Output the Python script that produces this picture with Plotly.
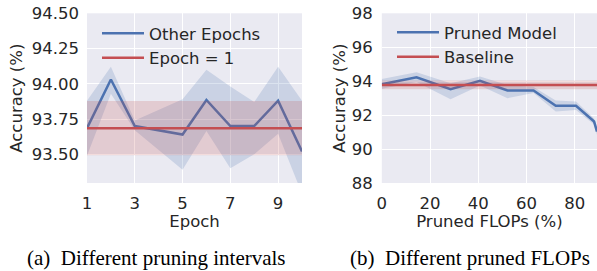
import plotly.graph_objects as go

# ---- data: (a) different pruning intervals ----
epochs = [1, 2, 3, 5, 6, 7, 8, 9, 10]
other_mean = [93.685, 94.03, 93.70, 93.64, 93.885, 93.70, 93.70, 93.88, 93.52]
other_upper = [93.88, 94.12, 93.74, 93.89, 94.10, 93.98, 93.87, 94.12, 93.88]
other_lower = [93.49, 93.93, 93.67, 93.39, 93.665, 93.40, 93.50, 93.645, 93.22]
epoch1_mean = 93.685
epoch1_upper = 93.878
epoch1_lower = 93.492
epoch_ticks = [1, 3, 5, 7, 9]
acc_ticks_a = [93.50, 93.75, 94.00, 94.25, 94.50]

# ---- data: (b) different pruned FLOPs ----
flops = [0, 14.4, 28.5, 40.7, 52.1, 62.9, 72.1, 80.5, 88.0, 89.2]
pruned_mean = [93.82, 94.23, 93.53, 94.02, 93.45, 93.45, 92.55, 92.55, 91.62, 91.03]
pruned_upper = [94.13, 94.53, 93.88, 94.27, 93.78, 93.65, 92.86, 92.80, 91.80, 91.20]
pruned_lower = [93.55, 93.95, 92.94, 93.74, 93.00, 93.30, 92.21, 92.30, 91.45, 90.85]
baseline_mean = 93.78
baseline_upper = 94.04
baseline_lower = 93.52
flops_ticks = [0, 20, 40, 60, 80]
acc_ticks_b = [88, 90, 92, 94, 96, 98]

BLUE = "#4C72B0"
RED = "#C44E52"
BLUE_FILL = "rgba(76,114,176,0.2)"
RED_FILL = "rgba(196,78,82,0.2)"
TXT = "#262626"
FONT = "DejaVu Sans"
FS = 16.5

fig = go.Figure()

def add_panel(fig, xs, mean, up, lo, base, bup, blo, xr, xa, ya, leg, name1, name2):
    # blue band
    fig.add_trace(go.Scatter(x=xs, y=up, mode="lines", line=dict(width=0), hoverinfo="skip",
                             showlegend=False, xaxis=xa, yaxis=ya))
    fig.add_trace(go.Scatter(x=xs, y=lo, mode="lines", line=dict(width=0), fill="tonexty",
                             fillcolor=BLUE_FILL, hoverinfo="skip", showlegend=False,
                             xaxis=xa, yaxis=ya))
    fig.add_trace(go.Scatter(x=xs, y=mean, mode="lines", line=dict(color=BLUE, width=2.5),
                             name=name1, legend=leg, xaxis=xa, yaxis=ya))
    # red band
    fig.add_trace(go.Scatter(x=xr, y=[bup, bup], mode="lines", line=dict(width=0),
                             hoverinfo="skip", showlegend=False, xaxis=xa, yaxis=ya))
    fig.add_trace(go.Scatter(x=xr, y=[blo, blo], mode="lines", line=dict(width=0),
                             fill="tonexty", fillcolor=RED_FILL, hoverinfo="skip",
                             showlegend=False, xaxis=xa, yaxis=ya))
    fig.add_trace(go.Scatter(x=xr, y=[base, base], mode="lines",
                             line=dict(color=RED, width=2.5), name=name2, legend=leg,
                             xaxis=xa, yaxis=ya))

add_panel(fig, epochs, other_mean, other_upper, other_lower,
          epoch1_mean, epoch1_upper, epoch1_lower, [1, 10], "x", "y", "legend",
          "Other Epochs", "Epoch = 1")
add_panel(fig, flops, pruned_mean, pruned_upper, pruned_lower,
          baseline_mean, baseline_upper, baseline_lower, [0, 89.2], "x2", "y2", "legend2",
          "Pruned Model", "Baseline")

W, H = 597, 271
ytop = 1 - 13.3 / H
ybot = 1 - 183 / H

axis_common = dict(showgrid=True, gridcolor="white", gridwidth=1.2, zeroline=False,
                   showline=False, ticks="", tickfont=dict(family=FONT, size=FS, color=TXT),
                   title_font=dict(family=FONT, size=FS, color=TXT), automargin=False)

fig.update_layout(
    width=W, height=H,
    margin=dict(l=0, r=0, t=0, b=0),
    paper_bgcolor="white",
    plot_bgcolor="#EAEAF2",
    font=dict(family=FONT, size=FS, color=TXT),
    xaxis=dict(domain=[87 / W, 302 / W], range=[1, 10], tickvals=epoch_ticks,
               title=dict(text="Epoch", standoff=3), ticklabelstandoff=8,
               anchor="y", **axis_common),
    yaxis=dict(domain=[ybot, ytop], range=[93.296, 94.5], tickvals=acc_ticks_a,
               tickformat=".2f", title=dict(text="Accuracy (%)", standoff=4),
               ticklabelstandoff=7, anchor="x", **axis_common),
    xaxis2=dict(domain=[381.8 / W, 1.0], range=[0, 89.2], tickvals=flops_ticks,
                title=dict(text="Pruned FLOPs (%)", standoff=3), ticklabelstandoff=8,
                anchor="y2", **axis_common),
    yaxis2=dict(domain=[ybot, ytop], range=[88, 98], tickvals=acc_ticks_b,
                title=dict(text="Accuracy (%)", standoff=2), ticklabelstandoff=8,
                anchor="x2", **axis_common),
    legend=dict(x=97 / W, y=1 - 16 / H, xanchor="left", yanchor="top",
                bgcolor="rgba(0,0,0,0)", traceorder="normal", itemwidth=42,
                font=dict(family=FONT, size=FS, color=TXT)),
    legend2=dict(x=392 / W, y=1 - 15 / H, xanchor="left", yanchor="top",
                 bgcolor="rgba(0,0,0,0)", traceorder="normal", itemwidth=42,
                 font=dict(family=FONT, size=FS, color=TXT)),
    annotations=[
        dict(text="(a)\u00a0 Different pruning intervals", x=156 / W, y=1 - 258 / H,
             xref="paper", yref="paper", showarrow=False, xanchor="center", yanchor="middle",
             font=dict(family="Liberation Serif", size=21, color="black")),
        dict(text="(b)\u00a0 Different pruned FLOPs", x=470 / W, y=1 - 258 / H,
             xref="paper", yref="paper", showarrow=False, xanchor="center", yanchor="middle",
             font=dict(family="Liberation Serif", size=21, color="black")),
    ],
)

fig.write_html("out.html", config={"displayModeBar": False},
               post_script="document.body.style.margin='0';document.body.style.overflow='hidden';")
